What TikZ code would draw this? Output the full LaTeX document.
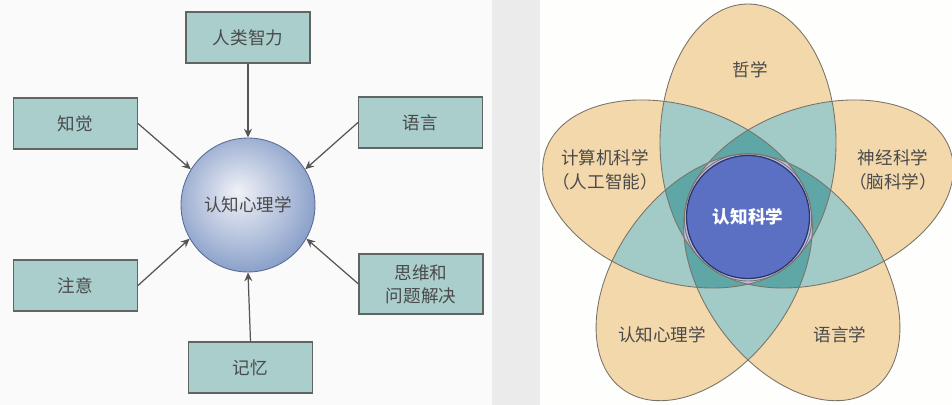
\documentclass[tikz,border=0pt]{standalone}
\usepackage{fontspec}
\setmainfont{Noto Sans CJK SC}
\usetikzlibrary{arrows.meta}
\definecolor{bgL}{HTML}{FAFAFA}
\definecolor{bgR}{HTML}{FEFEFC}
\definecolor{strip}{HTML}{EBEBEB}
\definecolor{boxfill}{HTML}{A9CECC}
\definecolor{boxline}{HTML}{5E6664}
\definecolor{txt}{HTML}{4A4A4A}
\definecolor{arrc}{HTML}{555555}
\definecolor{cin}{HTML}{F0F2F7}
\definecolor{cmid}{HTML}{B6C3DD}
\definecolor{cout}{HTML}{6E8ABD}
\definecolor{ccirc}{HTML}{5A6C96}
\definecolor{tanf}{HTML}{F3D8AC}
\definecolor{teal1}{HTML}{A2CAC6}
\definecolor{teal2}{HTML}{5FA6A6}
\definecolor{lav}{HTML}{BDBDE6}
\definecolor{cblue}{HTML}{5B70C2}
\definecolor{cbline}{HTML}{27356A}
\definecolor{eline}{HTML}{7A7468}
\pgfdeclareradialshading{ballsh}{\pgfpoint{-4bp}{5bp}}{color(0bp)=(cin); color(16bp)=(cmid); color(35bp)=(cout); color(50bp)=(cout)}
\begin{document}
\begin{tikzpicture}[x=0.02cm,y=-0.02cm,
  box/.style={draw=boxline, fill=boxfill, line width=0.6pt, minimum width=2.48cm,
    minimum height=1.02cm, inner sep=0pt, text=txt, font=\fontsize{10}{13}\selectfont, align=center},
  arr/.style={draw=arrc, line width=0.7pt, -{Stealth[length=5pt,width=4.5pt]}},
  petal/.style={shift={(748,217)}, rotate=#1},
  lbl/.style={text=txt, font=\fontsize{10}{14}\selectfont, align=center, inner sep=0pt}]
\useasboundingbox (0,0) rectangle (952,405);
\fill[bgL] (0,0) rectangle (492,405);
\fill[strip] (492,0) rectangle (540,405);
\fill[bgR] (540,0) rectangle (952,405);

% ---------- left panel ----------
\node[circle, shading=ballsh, draw=ccirc, line width=0.5pt, minimum size=2.68cm,
  text=txt, font=\fontsize{10}{13}\selectfont] (c) at (248,205) {认知心理学};
\node[box] (zl) at (248,37.5) {人类智力};
\node[box] (zj) at (75.5,123.5) {知觉};
\node[box] (yy) at (420.5,122.5) {语言};
\node[box] (zy) at (75.5,285.5) {注意};
\node[box, minimum height=1.2cm] (sw) at (421,284) {思维和\\问题解决};
\node[box] (jy) at (250.5,367.5) {记忆};
\draw[arr] (zl.south) -- (c.north);
\draw[arr] (zj.east) -- (c.148);
\draw[arr] (yy.west) -- (c.32);
\draw[arr] (zy.east) -- (c.210);
\draw[arr] (sw.west) -- (c.330);
\draw[arr] (jy.north) -- (c.south);

% ---------- right panel ----------
\foreach \a in {90,162,234,306,18}
  \fill[tanf, petal=\a] (74.5,0) ellipse [x radius=138.5, y radius=88];
\foreach \a/\b in {90/162,90/234,90/306,90/18,162/234,162/306,162/18,234/306,234/18,306/18}{
  \begin{scope}
    \clip[petal=\a] (74.5,0) ellipse [x radius=138.5, y radius=88];
    \fill[teal1, petal=\b] (74.5,0) ellipse [x radius=138.5, y radius=88];
  \end{scope}}
\foreach \a/\b/\c in {90/162/234,90/162/306,90/162/18,90/234/306,90/234/18,90/306/18,162/234/306,162/234/18,162/306/18,234/306/18}{
  \begin{scope}
    \clip[petal=\a] (74.5,0) ellipse [x radius=138.5, y radius=88];
    \clip[petal=\b] (74.5,0) ellipse [x radius=138.5, y radius=88];
    \fill[teal2, petal=\c] (74.5,0) ellipse [x radius=138.5, y radius=88];
  \end{scope}}
\foreach \a/\b/\c/\d in {162/234/306/18,90/234/306/18,90/162/306/18,90/162/234/18,90/162/234/306}{
  \begin{scope}
    \clip[petal=\a] (74.5,0) ellipse [x radius=138.5, y radius=88];
    \clip[petal=\b] (74.5,0) ellipse [x radius=138.5, y radius=88];
    \clip[petal=\c] (74.5,0) ellipse [x radius=138.5, y radius=88];
    \fill[lav, petal=\d] (74.5,0) ellipse [x radius=138.5, y radius=88];
  \end{scope}}
\foreach \a in {90,162,234,306,18}
  \draw[eline, line width=0.5pt, petal=\a] (74.5,0) ellipse [x radius=138.5, y radius=88];
\node[circle, fill=cblue, draw=cbline, line width=0.7pt, minimum size=2.46cm, text=white,
  font=\fontsize{10}{13}\selectfont\bfseries] (cs) at (748,217) {认知科学};
\node[lbl] (zx) at (750,70) {哲学};
\node[lbl] (js) at (605,170) {计算机科学\\（人工智能）};
\node[lbl] (sj) at (893,170) {神经科学\\（脑科学）};
\node[lbl] (rz) at (662,335) {认知心理学};
\node[lbl] (yyx) at (840,335) {语言学};
\end{tikzpicture}
\end{document}
